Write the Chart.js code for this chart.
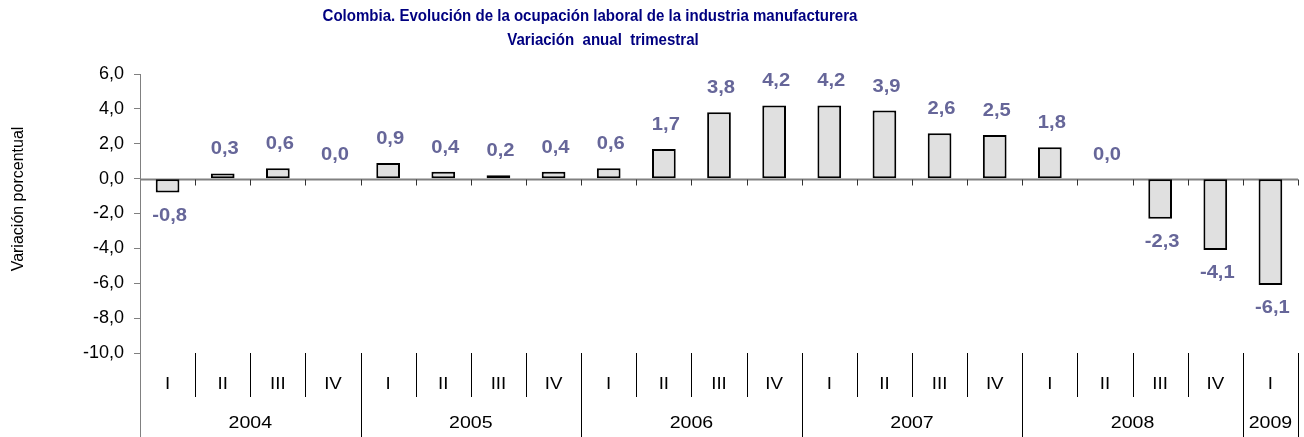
<!DOCTYPE html>
<html lang="es">
<head>
    <meta charset="UTF-8">
    <title>Ocupación laboral industria manufacturera</title>
    <script src="https://cdn.jsdelivr.net/npm/chart.js@4"></script>
    <style>
        body { margin: 0; background: #fff; }
        #wrap { width: 1304px; height: 437px; }
    </style>
</head>
<body>
    <div id="wrap"><canvas id="empleoChart"></canvas></div>

    <script>
        // datos
        const trimestres = ['I', 'II', 'III', 'IV', 'I', 'II', 'III', 'IV', 'I', 'II', 'III', 'IV',
                            'I', 'II', 'III', 'IV', 'I', 'II', 'III', 'IV', 'I'];
        const anios = ['2004', '2005', '2006', '2007', '2008', '2009'];
        const trimestresPorAnio = [4, 4, 4, 4, 4, 1];
        const variacion = [-0.8, 0.3, 0.6, 0.0, 0.9, 0.4, 0.2, 0.4, 0.6, 1.7, 3.8, 4.2,
                           4.2, 3.9, 2.6, 2.5, 1.8, 0.0, -2.3, -4.1, -6.1];
        const titulo = ['Colombia. Evolución de la ocupación laboral de la industria manufacturera',
                        'Variación  anual  trimestral'];
        const tituloEje = 'Variación porcentual';

        const FONT = '"Liberation Sans", Arial, sans-serif';
        const fmt = v => v.toFixed(1).replace('.', ',');

        // texto algo ensanchado, como en el original
        function texto(ctx, t, x, y, sx) {
            ctx.save();
            ctx.translate(x, y);
            ctx.scale(sx, 1);
            ctx.fillText(t, 0, 0);
            ctx.restore();
        }

        // eje de categorias en dos niveles, linea del cero, etiquetas y titulos
        const extras = {
            id: 'extras',
            beforeDatasetsDraw(chart) {
                const ctx = chart.ctx;
                const x = chart.scales.x, y = chart.scales.y;
                const area = chart.chartArea;
                const half = (x.getPixelForValue(1) - x.getPixelForValue(0)) / 2;
                const y0 = Math.round(y.getPixelForValue(0)) + 0.5;
                ctx.save();
                ctx.strokeStyle = '#808080';
                ctx.lineWidth = 2;
                ctx.beginPath();
                ctx.moveTo(area.left, y0);
                ctx.lineTo(area.right, y0);
                ctx.stroke();
                ctx.lineWidth = 1;
                ctx.strokeStyle = '#333';
                ctx.beginPath();
                for (let i = 1; i <= trimestres.length; i++) {
                    const bx = Math.round(x.getPixelForValue(i) - half) + 0.5;
                    ctx.moveTo(bx, y0);
                    ctx.lineTo(bx, y0 + 6);
                }
                ctx.stroke();
                ctx.restore();
            },
            afterDatasetsDraw(chart) {
                const ctx = chart.ctx;
                const x = chart.scales.x, y = chart.scales.y;
                const area = chart.chartArea;
                const H = chart.height;
                const half = (x.getPixelForValue(1) - x.getPixelForValue(0)) / 2;
                ctx.save();
                ctx.textAlign = 'center';
                ctx.textBaseline = 'middle';

                // etiquetas de valor
                ctx.fillStyle = '#666699';
                ctx.font = 'bold 18px ' + FONT;
                variacion.forEach((v, i) => {
                    const px = x.getPixelForValue(i);
                    const py = y.getPixelForValue(v);
                    texto(ctx, fmt(v), px + 2, v < 0 ? py + 23 : py - 24, 1.12);
                });

                // eje vertical prolongado
                ctx.strokeStyle = '#808080';
                ctx.lineWidth = 1;
                ctx.beginPath();
                ctx.moveTo(area.left + 0.5, area.bottom);
                ctx.lineTo(area.left + 0.5, H);
                ctx.stroke();

                // separadores y rotulos de trimestre
                ctx.strokeStyle = '#000';
                ctx.fillStyle = '#000';
                ctx.font = '17px ' + FONT;
                const fin = new Set();
                let acc = 0;
                trimestresPorAnio.forEach(n => { acc += n; fin.add(acc); });
                ctx.beginPath();
                trimestres.forEach((t, i) => {
                    const px = x.getPixelForValue(i);
                    texto(ctx, t, px, area.bottom + 31, 1.1);
                    const bx = Math.round(px + half) + 0.5;
                    ctx.moveTo(bx, area.bottom);
                    ctx.lineTo(bx, fin.has(i + 1) ? H : area.bottom + 44);
                });
                ctx.stroke();

                // rotulos de anio
                let start = 0;
                ctx.font = '17px ' + FONT;
                anios.forEach((a, k) => {
                    const n = trimestresPorAnio[k];
                    const cx = (x.getPixelForValue(start) + x.getPixelForValue(start + n - 1)) / 2;
                    texto(ctx, a, cx, area.bottom + 70, 1.15);
                    start += n;
                });

                // titulo
                ctx.fillStyle = '#000080';
                ctx.font = 'bold 16px ' + FONT;
                texto(ctx, titulo[0], 590, 17, 0.94);
                texto(ctx, titulo[1], 603, 41, 0.94);

                // titulo del eje
                ctx.fillStyle = '#000';
                ctx.font = '16px ' + FONT;
                ctx.translate(19, 199);
                ctx.rotate(-Math.PI / 2);
                ctx.fillText(tituloEje, 0, 0);
                ctx.restore();
            }
        };

        const ctx = document.getElementById('empleoChart').getContext('2d');
        const chart = new Chart(ctx, {
            type: 'bar',
            data: {
                labels: trimestres.map((t, i) => i),
                datasets: [
                    {
                        label: tituloEje,
                        data: variacion,
                        backgroundColor: '#e0e0e0',
                        borderColor: '#000',
                        borderWidth: 2,
                        borderSkipped: false,
                        barPercentage: 0.43,
                        categoryPercentage: 1
                    }
                ]
            },
            options: {
                responsive: true,
                maintainAspectRatio: false,
                animation: false,
                layout: { padding: { left: 0, top: 74, right: 6, bottom: 84 } },
                plugins: {
                    legend: { display: false },
                    title: { display: false },
                    tooltip: { enabled: false }
                },
                scales: {
                    x: { display: false },
                    y: {
                        min: -10,
                        max: 6,
                        afterFit(scale) { scale.width = 140; },
                        ticks: {
                            stepSize: 2,
                            padding: 10,
                            color: '#000',
                            font: { family: FONT, size: 18 },
                            callback: v => fmt(v)
                        },
                        grid: { drawOnChartArea: false, tickLength: 6, color: '#808080' },
                        border: { color: '#808080' }
                    }
                }
            },
            plugins: [extras]
        });
    </script>
</body>
</html>
